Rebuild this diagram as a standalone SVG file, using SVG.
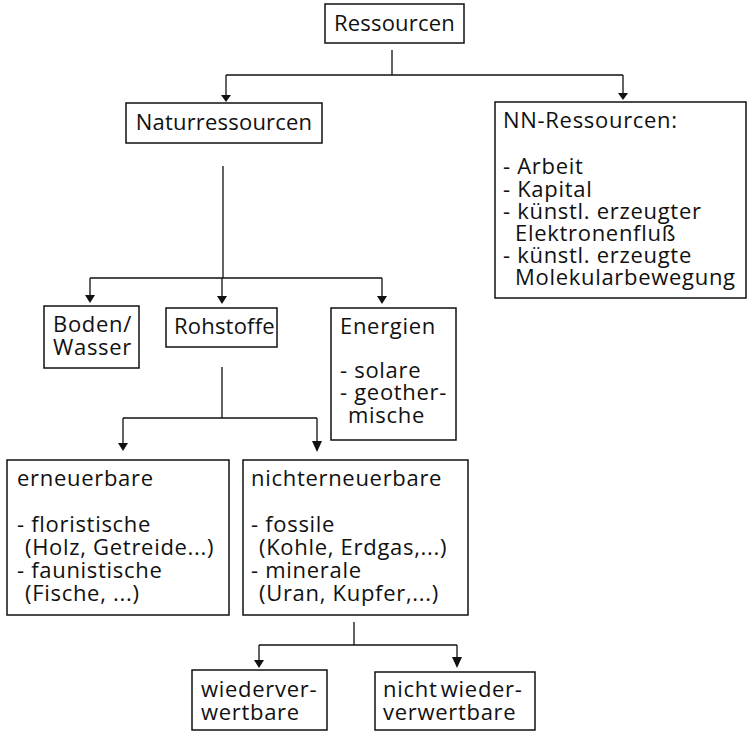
<svg xmlns="http://www.w3.org/2000/svg" width="748" height="732" viewBox="0 0 748 732">
<defs>
<style>
.box{fill:#fff;stroke:#111;stroke-width:1.5}
.t{font-family:"Open Sans","Noto Sans","Liberation Sans",sans-serif;font-size:22px;fill:#111;letter-spacing:0.7px}
.h{letter-spacing:0.2px}
.c{fill:none;stroke:#111;stroke-width:1.3}
.ah{fill:#111}
</style>
</defs>
<rect width="748" height="732" fill="#fff"/>
<g id="connectors">
<path class="c" d="M392,50 V75 M226,75 H623 M226,75 V96 M623,75 V94"/>
<path class="c" d="M223,166 V278 M90,278 H382 M90,278 V296 M222,278 V297 M382,278 V297"/>
<path class="c" d="M222,367 V418 M123,418 H317 M123,418 V444 M317,418 V444"/>
<path class="c" d="M354,622 V645 M259,645 H457 M259,645 V661 M457,645 V660"/>
<path class="ah" d="M221,95 L231,95 L226,102 Z"/>
<path class="ah" d="M618,93 L628,93 L623,100 Z"/>
<path class="ah" d="M85,295 L95,295 L90,303 Z"/>
<path class="ah" d="M217,296 L227,296 L222,304 Z"/>
<path class="ah" d="M377,296 L387,296 L382,304 Z"/>
<path class="ah" d="M118,443 L128,443 L123,451 Z"/>
<path class="ah" d="M312,441 L322,441 L317,452 Z"/>
<path class="ah" d="M254,660 L264,660 L259,668 Z"/>
<path class="ah" d="M452,657 L462,657 L457,668 Z"/>
</g>
<g id="ressourcen">
<rect class="box" x="325" y="4" width="139" height="39"/>
<text class="t h" x="394.5" y="31" text-anchor="middle">Ressourcen</text>
</g>
<g id="naturressourcen">
<rect class="box" x="126" y="103" width="196" height="40"/>
<text class="t h" x="224" y="130" text-anchor="middle">Naturressourcen</text>
</g>
<g id="nn-ressourcen">
<rect class="box" x="495" y="102" width="251" height="196"/>
<text class="t" x="503" y="128">NN-Ressourcen:</text>
<text class="t" x="503" y="174">- Arbeit</text>
<text class="t" x="503" y="197">- Kapital</text>
<text class="t" x="503" y="219">- künstl. erzeugter</text>
<text class="t" x="515" y="241">Elektronenfluß</text>
<text class="t" x="503" y="263">- künstl. erzeugte</text>
<text class="t" x="515" y="285">Molekularbewegung</text>
</g>
<g id="boden-wasser">
<rect class="box" x="44" y="306" width="95" height="62"/>
<text class="t" x="53" y="332">Boden/</text>
<text class="t" x="53" y="355">Wasser</text>
</g>
<g id="rohstoffe">
<rect class="box" x="166" y="308" width="111" height="39"/>
<text class="t h" x="174" y="334">Rohstoffe</text>
</g>
<g id="energien">
<rect class="box" x="331" y="308" width="125" height="132"/>
<text class="t" x="340" y="334">Energien</text>
<text class="t" x="340" y="378">- solare</text>
<text class="t" x="340" y="400">- geother-</text>
<text class="t" x="348" y="423">mische</text>
</g>
<g id="erneuerbare">
<rect class="box" x="7" y="460" width="222" height="155"/>
<text class="t" x="17" y="486">erneuerbare</text>
<text class="t" x="17" y="532">- floristische</text>
<text class="t" x="25" y="555">(Holz, Getreide...)</text>
<text class="t" x="17" y="578">- faunistische</text>
<text class="t" x="25" y="601">(Fische, ...)</text>
</g>
<g id="nichterneuerbare">
<rect class="box" x="243" y="460" width="225" height="155"/>
<text class="t" x="251" y="486">nichterneuerbare</text>
<text class="t" x="251" y="532">- fossile</text>
<text class="t" x="259" y="555">(Kohle, Erdgas,...)</text>
<text class="t" x="251" y="578">- minerale</text>
<text class="t" x="259" y="601">(Uran, Kupfer,...)</text>
</g>
<g id="wiederverwertbare">
<rect class="box" x="192" y="670" width="135" height="60"/>
<text class="t" x="201" y="697">wiederver-</text>
<text class="t" x="201" y="720">wertbare</text>
</g>
<g id="nicht-wiederverwertbare">
<rect class="box" x="375" y="672" width="160" height="58"/>
<text class="t" x="383" y="697" word-spacing="-3">nicht wieder-</text>
<text class="t" x="383" y="720">verwertbare</text>
</g>
</svg>
